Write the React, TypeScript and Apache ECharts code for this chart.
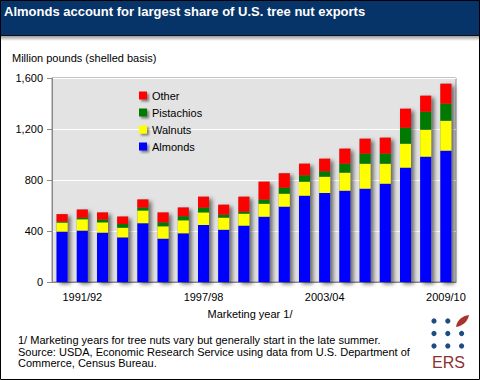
import React, { useEffect, useRef } from "react";
import * as echarts from "echarts";

const categories = [
  "1990/91", "1991/92", "1992/93", "1993/94", "1994/95", "1995/96", "1996/97",
  "1997/98", "1998/99", "1999/00", "2000/01", "2001/02", "2002/03", "2003/04",
  "2004/05", "2005/06", "2006/07", "2007/08", "2008/09", "2009/10",
];
const almonds = [395, 403, 387, 350, 461, 340, 382, 447, 410, 442, 512, 591, 677, 698, 716, 732, 771, 897, 983, 1030];
const walnuts = [71, 89, 81, 76, 100, 97, 102, 99, 95, 94, 102, 102, 110, 128, 142, 196, 157, 188, 212, 235];
const pistachios = [8, 13, 22, 29, 23, 31, 32, 37, 23, 16, 32, 47, 50, 42, 70, 79, 79, 125, 141, 134];
const other = [58, 63, 55, 58, 63, 77, 68, 86, 78, 117, 141, 112, 91, 99, 118, 117, 125, 149, 125, 156];
const yTicks = [0, 400, 800, 1200, 1600];

const FONT = '"Liberation Sans", Arial, Helvetica, sans-serif';

let leafRegistered = false;

export default function App() {
  const ref = useRef<HTMLDivElement>(null);
  useEffect(() => {
    if (!ref.current) return;
    if (!leafRegistered) {
      echarts.graphic.registerShape(
        "leaf",
        echarts.graphic.extendPath("M0 12 C1 5 6 1 13 0 C12 6 7 11 0 12 Z", {})
      );
      leafRegistered = true;
    }
    const chart = echarts.init(ref.current, null, { renderer: "svg" });
    const totals = almonds.map((a, i) => a + walnuts[i] + pistachios[i] + other[i]);
    const barW = 11;
    const tickShown = (i: number) => i % 6 === 1;
    chart.setOption({
      animation: false,
      backgroundColor: "#ffffff",
      textStyle: { fontFamily: FONT },
      grid: {
        left: 52, right: 24, top: 78, bottom: 98,
        show: true, backgroundColor: "#e3e3e3", borderColor: "#8a8a8a", borderWidth: 1,
      },
      legend: {
        data: ["Other", "Pistachios", "Walnuts", "Almonds"],
        orient: "vertical",
        left: 134,
        top: 84,
        itemWidth: 8,
        itemHeight: 8,
        itemGap: 4,
        icon: "rect",
        textStyle: { fontSize: 11, color: "#000", fontFamily: FONT, lineHeight: 13 },
        itemStyle: { shadowColor: "rgba(0,0,0,0.45)", shadowBlur: 2, shadowOffsetX: 2, shadowOffsetY: 2 },
      },
      xAxis: {
        type: "category",
        data: categories,
        axisLine: { lineStyle: { color: "#8a8a8a" } },
        axisTick: { interval: tickShown, alignWithLabel: true, length: 5, lineStyle: { color: "#8a8a8a" } },
        axisLabel: { interval: tickShown, fontSize: 11, color: "#000", margin: 9, fontFamily: FONT },
      },
      yAxis: {
        type: "value",
        min: yTicks[0],
        max: yTicks[yTicks.length - 1],
        interval: 400,
        axisLine: { show: true, lineStyle: { color: "#8a8a8a" } },
        axisTick: { show: true, length: 5, lineStyle: { color: "#8a8a8a" } },
        axisLabel: {
          fontSize: 11, color: "#000", margin: 9, fontFamily: FONT,
          formatter: (v: number) => v.toLocaleString("en-US"),
        },
        splitLine: { lineStyle: { color: "#ffffff", width: 1 } },
      },
      series: [
        {
          name: "shadow",
          type: "bar",
          data: totals,
          barWidth: barW,
          barGap: "-100%",
          itemStyle: { color: "#777", shadowColor: "rgba(0,0,0,0.55)", shadowBlur: 4, shadowOffsetX: 3, shadowOffsetY: 2 },
          silent: true,
        },
        { name: "Almonds", type: "bar", stack: "t", data: almonds, barWidth: barW, barGap: "-100%", itemStyle: { color: "#0000ff" } },
        { name: "Walnuts", type: "bar", stack: "t", data: walnuts, barWidth: barW, barGap: "-100%", itemStyle: { color: "#ffff00" } },
        { name: "Pistachios", type: "bar", stack: "t", data: pistachios, barWidth: barW, barGap: "-100%", itemStyle: { color: "#007a00" } },
        { name: "Other", type: "bar", stack: "t", data: other, barWidth: barW, barGap: "-100%", itemStyle: { color: "#ff0000" } },
      ],
      graphic: [
        { type: "rect", shape: { x: 0, y: 0, width: 480, height: 35 }, style: { fill: "#063468" }, z: 10 },
        { type: "rect", shape: { x: 0, y: 35, width: 480, height: 1 }, style: { fill: "#111" }, z: 10 },
        {
          type: "rect", shape: { x: 0, y: 36, width: 480, height: 5 }, z: 10,
          style: {
            fill: new echarts.graphic.LinearGradient(0, 0, 0, 1, [
              { offset: 0, color: "#9a9a9a" },
              { offset: 1, color: "#ffffff" },
            ]),
          },
        },
        {
          type: "text", x: 4, y: 11, z: 11,
          style: { text: "Almonds account for largest share of U.S. tree nut exports", fill: "#ffffff", font: `bold 13px ${FONT}`, verticalAlign: "middle" },
        },
        {
          type: "text", x: 12, y: 58, z: 11,
          style: { text: "Million pounds (shelled basis)", fill: "#000", font: `11px ${FONT}`, verticalAlign: "middle" },
        },
        {
          type: "text", x: 250, y: 314, z: 11,
          style: { text: "Marketing year 1/", fill: "#000", font: `11px ${FONT}`, align: "center", verticalAlign: "middle" },
        },
        {
          type: "text", x: 18, y: 340, z: 11,
          style: { text: "1/ Marketing years for tree nuts vary but generally start in the late summer.", fill: "#000", font: `11px ${FONT}`, verticalAlign: "middle" },
        },
        {
          type: "text", x: 18, y: 351.5, z: 11,
          style: { text: "Source: USDA, Economic Research Service using data from U.S. Department of", fill: "#000", font: `11px ${FONT}`, verticalAlign: "middle" },
        },
        {
          type: "text", x: 18, y: 363, z: 11,
          style: { text: "Commerce, Census Bureau.", fill: "#000", font: `11px ${FONT}`, verticalAlign: "middle" },
        },
        // ERS logo
        ...[0, 1, 2].flatMap((r) =>
          [0, 1, 2]
            .filter((c) => !(r === 0 && c === 2))
            .map((c) => ({
              type: "circle", z: 11,
              shape: { cx: 434 + c * 13.8, cy: 321 + r * 12.5, r: 2.6 },
              style: { fill: "#1e4b82" },
            }))
        ),
        { type: "leaf", x: 456, y: 315, scaleX: 1, scaleY: 1, z: 11, style: { fill: "#a8352c" } },
        {
          type: "text", x: 448.5, y: 362, z: 11,
          style: { text: "ERS", fill: "#8e3030", font: `16px ${FONT}`, align: "center", verticalAlign: "middle" },
        },
        { type: "rect", shape: { x: 0.5, y: 0.5, width: 479, height: 379 }, style: { fill: "none", stroke: "#000", lineWidth: 1 }, z: 20 },
      ],
    });
    return () => chart.dispose();
  }, []);
  return <div ref={ref} style={{ position: "fixed", left: 0, top: 0, width: 480, height: 380 }} />;
}
